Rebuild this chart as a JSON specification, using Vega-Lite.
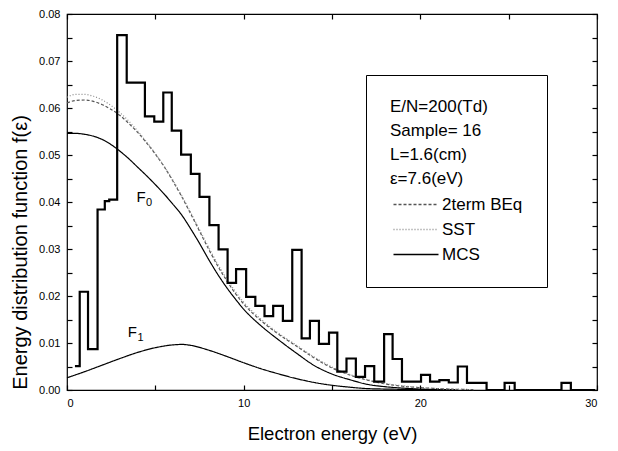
{
  "$schema": "https://vega.github.io/schema/vega-lite/v6.json",
  "width": 530,
  "height": 376,
  "autosize": "none",
  "padding": {"left": 67, "top": 14, "right": 21, "bottom": 61},
  "background": "white",
  "config": {
    "font": "Liberation Sans",
    "view": {"stroke": "black", "strokeWidth": 1.2},
    "axis": {
      "labelFont": "Liberation Sans", "labelFontSize": 11, "labelColor": "black",
      "titleFont": "Liberation Sans", "titleFontSize": 18, "titleFontWeight": "normal", "titleColor": "black",
      "ticks": true, "tickColor": "black", "tickSize": 5, "tickWidth": 1.2, "offset": -5, "domain": false, "grid": false, "zindex": 1
    },
    "legend": {
      "orient": "none", "legendX": 299, "legendY": 61,
      "titleFont": "Liberation Sans", "titleFontSize": 17, "titleFontWeight": "normal", "titleLineHeight": 24, "titleColor": "black",
      "labelFont": "Liberation Sans", "labelFontSize": 17, "labelColor": "black",
      "symbolType": "M-1,0L8,0", "symbolSize": 100, "symbolStrokeWidth": 1.3,
      "labelOffset": 35, "rowPadding": 7, "titlePadding": 8,
      "padding": 24, "strokeColor": "black", "fillColor": "white"
    }
  },
  "datasets": {
    "hist": [
      {"energy": 0.45, "f": 0.0051}, {"energy": 0.72, "f": 0.0209}, {"energy": 1.19, "f": 0.0087},
      {"energy": 1.73, "f": 0.0384}, {"energy": 2.14, "f": 0.0402}, {"energy": 2.39, "f": 0.0405},
      {"energy": 2.84, "f": 0.0755}, {"energy": 3.38, "f": 0.0654}, {"energy": 4.41, "f": 0.0582},
      {"energy": 4.94, "f": 0.0571}, {"energy": 5.45, "f": 0.0633}, {"energy": 5.93, "f": 0.0552},
      {"energy": 6.46, "f": 0.0501}, {"energy": 7.01, "f": 0.046}, {"energy": 7.5, "f": 0.0411},
      {"energy": 8.06, "f": 0.0351}, {"energy": 8.58, "f": 0.0299}, {"energy": 9.09, "f": 0.0228},
      {"energy": 9.57, "f": 0.0257}, {"energy": 10.14, "f": 0.0198}, {"energy": 10.66, "f": 0.0179},
      {"energy": 11.18, "f": 0.0157}, {"energy": 11.67, "f": 0.0179}, {"energy": 12.22, "f": 0.0147},
      {"energy": 12.75, "f": 0.0298}, {"energy": 13.28, "f": 0.011}, {"energy": 13.75, "f": 0.0147},
      {"energy": 14.26, "f": 0.0098}, {"energy": 14.83, "f": 0.0122}, {"energy": 15.3, "f": 0.0039},
      {"energy": 15.82, "f": 0.0067}, {"energy": 16.35, "f": 0.0028}, {"energy": 16.87, "f": 0.0051},
      {"energy": 17.39, "f": 0.0018}, {"energy": 17.95, "f": 0.0119}, {"energy": 18.43, "f": 0.0066},
      {"energy": 18.96, "f": 0.0018}, {"energy": 20.04, "f": 0.0032}, {"energy": 20.55, "f": 0.0018},
      {"energy": 21.08, "f": 0.0021}, {"energy": 21.61, "f": 0.0016}, {"energy": 22.12, "f": 0.005},
      {"energy": 22.64, "f": 0.0015}, {"energy": 23.75, "f": 0}, {"energy": 24.77, "f": 0.0015},
      {"energy": 25.34, "f": 0}, {"energy": 27.99, "f": 0.0015}, {"energy": 28.52, "f": 0},
      {"energy": 29.9, "f": 0}
    ],
    "curves": [
      {"method": "MCS", "comp": "F0", "energy": 0, "f": 0.0546},
      {"method": "MCS", "comp": "F0", "energy": 0.5, "f": 0.0546},
      {"method": "MCS", "comp": "F0", "energy": 1, "f": 0.0544},
      {"method": "MCS", "comp": "F0", "energy": 1.5, "f": 0.054},
      {"method": "MCS", "comp": "F0", "energy": 2, "f": 0.0533},
      {"method": "MCS", "comp": "F0", "energy": 2.5, "f": 0.0522},
      {"method": "MCS", "comp": "F0", "energy": 3, "f": 0.0508},
      {"method": "MCS", "comp": "F0", "energy": 3.5, "f": 0.0492},
      {"method": "MCS", "comp": "F0", "energy": 4, "f": 0.0474},
      {"method": "MCS", "comp": "F0", "energy": 4.5, "f": 0.0456},
      {"method": "MCS", "comp": "F0", "energy": 5, "f": 0.0437},
      {"method": "MCS", "comp": "F0", "energy": 5.5, "f": 0.0417},
      {"method": "MCS", "comp": "F0", "energy": 6, "f": 0.0395},
      {"method": "MCS", "comp": "F0", "energy": 6.5, "f": 0.0372},
      {"method": "MCS", "comp": "F0", "energy": 7, "f": 0.0343},
      {"method": "MCS", "comp": "F0", "energy": 7.5, "f": 0.0312},
      {"method": "MCS", "comp": "F0", "energy": 8, "f": 0.0279},
      {"method": "MCS", "comp": "F0", "energy": 8.5, "f": 0.0248},
      {"method": "MCS", "comp": "F0", "energy": 9, "f": 0.022},
      {"method": "MCS", "comp": "F0", "energy": 9.5, "f": 0.0195},
      {"method": "MCS", "comp": "F0", "energy": 10, "f": 0.0172},
      {"method": "MCS", "comp": "F0", "energy": 11, "f": 0.0136},
      {"method": "MCS", "comp": "F0", "energy": 12, "f": 0.0106},
      {"method": "MCS", "comp": "F0", "energy": 13, "f": 0.0078},
      {"method": "MCS", "comp": "F0", "energy": 14, "f": 0.0052},
      {"method": "MCS", "comp": "F0", "energy": 15, "f": 0.0034},
      {"method": "MCS", "comp": "F0", "energy": 16, "f": 0.0022},
      {"method": "MCS", "comp": "F0", "energy": 17, "f": 0.0012},
      {"method": "MCS", "comp": "F0", "energy": 18, "f": 0.0007},
      {"method": "MCS", "comp": "F0", "energy": 19, "f": 0.0004},
      {"method": "MCS", "comp": "F0", "energy": 20, "f": 0.0002},
      {"method": "MCS", "comp": "F0", "energy": 21, "f": 0.0001},
      {"method": "MCS", "comp": "F0", "energy": 22, "f": 0.00005},
      {"method": "MCS", "comp": "F1", "energy": 0, "f": 0.0026},
      {"method": "MCS", "comp": "F1", "energy": 1, "f": 0.0039},
      {"method": "MCS", "comp": "F1", "energy": 2, "f": 0.0053},
      {"method": "MCS", "comp": "F1", "energy": 3, "f": 0.0067},
      {"method": "MCS", "comp": "F1", "energy": 4, "f": 0.008},
      {"method": "MCS", "comp": "F1", "energy": 5, "f": 0.009},
      {"method": "MCS", "comp": "F1", "energy": 6, "f": 0.0096},
      {"method": "MCS", "comp": "F1", "energy": 6.5, "f": 0.0097},
      {"method": "MCS", "comp": "F1", "energy": 7, "f": 0.0095},
      {"method": "MCS", "comp": "F1", "energy": 8, "f": 0.0085},
      {"method": "MCS", "comp": "F1", "energy": 9, "f": 0.0072},
      {"method": "MCS", "comp": "F1", "energy": 10, "f": 0.0058},
      {"method": "MCS", "comp": "F1", "energy": 11, "f": 0.0045},
      {"method": "MCS", "comp": "F1", "energy": 12, "f": 0.0034},
      {"method": "MCS", "comp": "F1", "energy": 13, "f": 0.0024},
      {"method": "MCS", "comp": "F1", "energy": 14, "f": 0.0016},
      {"method": "MCS", "comp": "F1", "energy": 15, "f": 0.001},
      {"method": "MCS", "comp": "F1", "energy": 16, "f": 0.0006},
      {"method": "MCS", "comp": "F1", "energy": 17, "f": 0.0003},
      {"method": "MCS", "comp": "F1", "energy": 18, "f": 0.0002},
      {"method": "MCS", "comp": "F1", "energy": 20, "f": 0.0001},
      {"method": "MCS", "comp": "F1", "energy": 22, "f": 0.00005},
      {"method": "2term BEq", "comp": "F0", "energy": 0, "f": 0.0611},
      {"method": "2term BEq", "comp": "F0", "energy": 0.5, "f": 0.0616},
      {"method": "2term BEq", "comp": "F0", "energy": 1, "f": 0.0617},
      {"method": "2term BEq", "comp": "F0", "energy": 1.5, "f": 0.0614},
      {"method": "2term BEq", "comp": "F0", "energy": 2, "f": 0.0607},
      {"method": "2term BEq", "comp": "F0", "energy": 2.5, "f": 0.0597},
      {"method": "2term BEq", "comp": "F0", "energy": 3, "f": 0.0584},
      {"method": "2term BEq", "comp": "F0", "energy": 3.5, "f": 0.0567},
      {"method": "2term BEq", "comp": "F0", "energy": 4, "f": 0.0548},
      {"method": "2term BEq", "comp": "F0", "energy": 4.5, "f": 0.0526},
      {"method": "2term BEq", "comp": "F0", "energy": 5, "f": 0.0502},
      {"method": "2term BEq", "comp": "F0", "energy": 5.5, "f": 0.0475},
      {"method": "2term BEq", "comp": "F0", "energy": 6, "f": 0.0444},
      {"method": "2term BEq", "comp": "F0", "energy": 6.5, "f": 0.0411},
      {"method": "2term BEq", "comp": "F0", "energy": 7, "f": 0.0375},
      {"method": "2term BEq", "comp": "F0", "energy": 7.5, "f": 0.0338},
      {"method": "2term BEq", "comp": "F0", "energy": 8, "f": 0.0301},
      {"method": "2term BEq", "comp": "F0", "energy": 8.5, "f": 0.0266},
      {"method": "2term BEq", "comp": "F0", "energy": 9, "f": 0.0235},
      {"method": "2term BEq", "comp": "F0", "energy": 9.5, "f": 0.0207},
      {"method": "2term BEq", "comp": "F0", "energy": 10, "f": 0.0183},
      {"method": "2term BEq", "comp": "F0", "energy": 11, "f": 0.0147},
      {"method": "2term BEq", "comp": "F0", "energy": 12, "f": 0.0118},
      {"method": "2term BEq", "comp": "F0", "energy": 13, "f": 0.0093},
      {"method": "2term BEq", "comp": "F0", "energy": 14, "f": 0.0068},
      {"method": "2term BEq", "comp": "F0", "energy": 15, "f": 0.0047},
      {"method": "2term BEq", "comp": "F0", "energy": 16, "f": 0.0032},
      {"method": "2term BEq", "comp": "F0", "energy": 17, "f": 0.0021},
      {"method": "2term BEq", "comp": "F0", "energy": 18, "f": 0.0013},
      {"method": "2term BEq", "comp": "F0", "energy": 19, "f": 0.0008},
      {"method": "2term BEq", "comp": "F0", "energy": 20, "f": 0.0005},
      {"method": "2term BEq", "comp": "F0", "energy": 21, "f": 0.0003},
      {"method": "2term BEq", "comp": "F0", "energy": 22, "f": 0.00015},
      {"method": "2term BEq", "comp": "F0", "energy": 23, "f": 0.0001},
      {"method": "SST", "comp": "F0", "energy": 0, "f": 0.0623},
      {"method": "SST", "comp": "F0", "energy": 0.5, "f": 0.0629},
      {"method": "SST", "comp": "F0", "energy": 1, "f": 0.0629},
      {"method": "SST", "comp": "F0", "energy": 1.5, "f": 0.0625},
      {"method": "SST", "comp": "F0", "energy": 2, "f": 0.0617},
      {"method": "SST", "comp": "F0", "energy": 2.5, "f": 0.0605},
      {"method": "SST", "comp": "F0", "energy": 3, "f": 0.059},
      {"method": "SST", "comp": "F0", "energy": 3.5, "f": 0.0572},
      {"method": "SST", "comp": "F0", "energy": 4, "f": 0.0551},
      {"method": "SST", "comp": "F0", "energy": 4.5, "f": 0.0528},
      {"method": "SST", "comp": "F0", "energy": 5, "f": 0.0503},
      {"method": "SST", "comp": "F0", "energy": 5.5, "f": 0.0476},
      {"method": "SST", "comp": "F0", "energy": 6, "f": 0.0446},
      {"method": "SST", "comp": "F0", "energy": 6.5, "f": 0.0413},
      {"method": "SST", "comp": "F0", "energy": 7, "f": 0.0378},
      {"method": "SST", "comp": "F0", "energy": 7.5, "f": 0.0341},
      {"method": "SST", "comp": "F0", "energy": 8, "f": 0.0305},
      {"method": "SST", "comp": "F0", "energy": 8.5, "f": 0.027},
      {"method": "SST", "comp": "F0", "energy": 9, "f": 0.0239},
      {"method": "SST", "comp": "F0", "energy": 9.5, "f": 0.0211},
      {"method": "SST", "comp": "F0", "energy": 10, "f": 0.0187},
      {"method": "SST", "comp": "F0", "energy": 11, "f": 0.015},
      {"method": "SST", "comp": "F0", "energy": 12, "f": 0.012},
      {"method": "SST", "comp": "F0", "energy": 13, "f": 0.0095},
      {"method": "SST", "comp": "F0", "energy": 14, "f": 0.007},
      {"method": "SST", "comp": "F0", "energy": 15, "f": 0.0049},
      {"method": "SST", "comp": "F0", "energy": 16, "f": 0.0033},
      {"method": "SST", "comp": "F0", "energy": 17, "f": 0.0022},
      {"method": "SST", "comp": "F0", "energy": 18, "f": 0.0014},
      {"method": "SST", "comp": "F0", "energy": 19, "f": 0.0009},
      {"method": "SST", "comp": "F0", "energy": 20, "f": 0.0005},
      {"method": "SST", "comp": "F0", "energy": 21, "f": 0.0003},
      {"method": "SST", "comp": "F0", "energy": 22, "f": 0.00015},
      {"method": "SST", "comp": "F0", "energy": 23, "f": 0.0001}
    ]
  },
  "layer": [
    {
      "data": {"name": "curves"},
      "mark": {"type": "line", "interpolate": "monotone", "strokeWidth": 1.2},
      "encoding": {
        "x": {"field": "energy", "type": "quantitative", "scale": {"domain": [0, 30], "nice": false},
          "axis": {"orient": "bottom", "values": [0, 5, 10, 15, 20, 25, 30], "format": "d", "ticks": true, "tickSize": 5,
            "labelExpr": "datum.value % 10 === 0 ? datum.label : ''", "labelPadding": 7,
            "title": "Electron energy (eV)", "titlePadding": 16, "titleFontSize": 18.5}},
        "y": {"field": "f", "type": "quantitative", "scale": {"domain": [0, 0.08], "nice": false},
          "axis": {"orient": "left", "values": [0, 0.005, 0.01, 0.015, 0.02, 0.025, 0.03, 0.035, 0.04, 0.045, 0.05, 0.055, 0.06, 0.065, 0.07, 0.075, 0.08], "ticks": true, "tickSize": 5,
            "labelExpr": "round(datum.value * 1000) % 10 === 0 ? format(datum.value, '.2f') : ''", "labelPadding": 7,
            "title": "Energy distribution function f(ε)", "titlePadding": 8, "titleFontSize": 20, "titleY": 238}},
        "detail": {"field": "comp"},
        "color": {"field": "method", "type": "nominal",
          "scale": {"domain": ["2term BEq", "SST", "MCS"], "range": ["#555555", "#8a8a8a", "#000000"]},
          "legend": {"title": ["E/N=200(Td)", "Sample= 16", "L=1.6(cm)", "ε=7.6(eV)"]}},
        "strokeDash": {"field": "method", "type": "nominal",
          "scale": {"domain": ["2term BEq", "SST", "MCS"], "range": [[3, 2], [1, 2], [1, 0]]},
          "legend": {"title": ["E/N=200(Td)", "Sample= 16", "L=1.6(cm)", "ε=7.6(eV)"]}}
      }
    },
    {
      "data": {"name": "hist"},
      "mark": {"type": "line", "interpolate": "step-after", "color": "black", "strokeWidth": 2.2},
      "encoding": {
        "x": {"field": "energy", "type": "quantitative", "axis": null},
        "y": {"field": "f", "type": "quantitative", "axis": null}
      }
    },
    {
      "data": {"name": "hist"},
      "mark": {"type": "point", "opacity": 0},
      "encoding": {
        "x": {"field": "energy", "type": "quantitative",
          "axis": {"orient": "top", "values": [0, 5, 10, 15, 20, 25, 30], "ticks": true, "tickSize": 5, "labels": false, "title": null}},
        "y": {"field": "f", "type": "quantitative",
          "axis": {"orient": "right", "values": [0, 0.005, 0.01, 0.015, 0.02, 0.025, 0.03, 0.035, 0.04, 0.045, 0.05, 0.055, 0.06, 0.065, 0.07, 0.075, 0.08], "ticks": true, "tickSize": 5, "labels": false, "title": null}}
      }
    },
    {
      "data": {"values": [{}]},
      "mark": {"type": "text", "text": "F", "fontSize": 15, "font": "Liberation Sans", "color": "black", "baseline": "middle", "align": "center"},
      "encoding": {"x": {"datum": 4.19, "type": "quantitative", "axis": null}, "y": {"datum": 0.0411, "type": "quantitative", "axis": null}}
    },
    {
      "data": {"values": [{}]},
      "mark": {"type": "text", "text": "0", "fontSize": 11, "font": "Liberation Sans", "color": "black", "baseline": "middle", "align": "center"},
      "encoding": {"x": {"datum": 4.65, "type": "quantitative", "axis": null}, "y": {"datum": 0.0398, "type": "quantitative", "axis": null}}
    },
    {
      "data": {"values": [{}]},
      "mark": {"type": "text", "text": "F", "fontSize": 15, "font": "Liberation Sans", "color": "black", "baseline": "middle", "align": "center"},
      "encoding": {"x": {"datum": 3.7, "type": "quantitative", "axis": null}, "y": {"datum": 0.0124, "type": "quantitative", "axis": null}}
    },
    {
      "data": {"values": [{}]},
      "mark": {"type": "text", "text": "1", "fontSize": 11, "font": "Liberation Sans", "color": "black", "baseline": "middle", "align": "center"},
      "encoding": {"x": {"datum": 4.16, "type": "quantitative", "axis": null}, "y": {"datum": 0.011, "type": "quantitative", "axis": null}}
    }
  ],
  "resolve": {"axis": {"x": "independent", "y": "independent"}}
}
